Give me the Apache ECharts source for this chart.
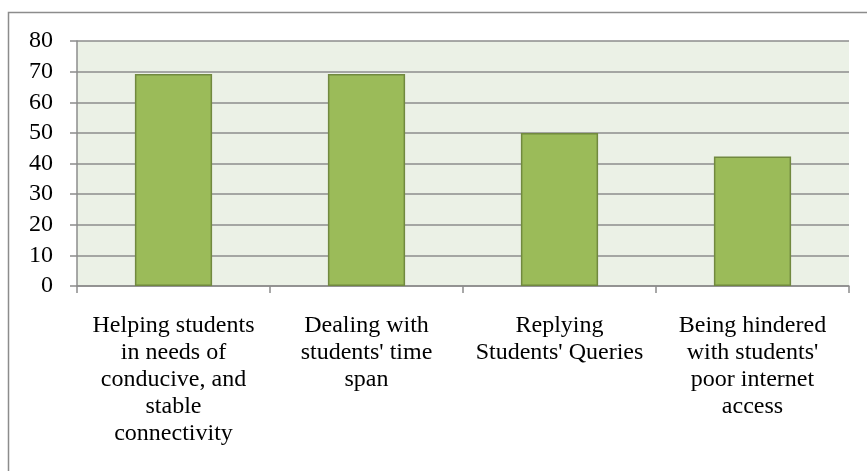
<!DOCTYPE html>
<html>
<head>
<meta charset="utf-8">
<script src="https://cdn.jsdelivr.net/npm/echarts@6/dist/echarts.min.js"></script>
<style>html,body{margin:0;padding:0;background:#fff;}#c{width:867px;height:471px;}</style>
</head>
<body>
<div id="c"></div>
<script>
const categories = [
  "Helping students\nin needs of\nconducive, and\nstable\nconnectivity",
  "Dealing with\nstudents' time\nspan",
  "Replying\nStudents' Queries",
  "Being hindered\nwith students'\npoor internet\naccess"
];
const values = [69.2, 69.2, 50, 42.3];
const yTicks = {min: 0, max: 80, interval: 10};

const chart = echarts.init(document.getElementById('c'), null, {renderer: 'canvas'});
chart.setOption({
  animation: false,
  backgroundColor: '#ffffff',
  graphic: [{
    type: 'rect',
    shape: {x: 8.5, y: 12.5, width: 900, height: 500},
    style: {fill: 'none', stroke: '#8c8c8c', lineWidth: 1.5},
    silent: true, z: -1
  }],
  grid: {left: 77, right: 18, top: 41, bottom: 185, containLabel: false,
         show: true, backgroundColor: '#EBF1E6', borderWidth: 0},
  xAxis: {
    type: 'category',
    data: categories,
    axisLine: {show: true, lineStyle: {color: '#8c8c8c', width: 1.5}},
    axisTick: {show: true, alignWithLabel: false, length: 7, lineStyle: {color: '#8c8c8c', width: 1.5}},
    axisLabel: {
      interval: 0, margin: 26, color: '#000',
      fontFamily: 'Liberation Serif', fontSize: 24, lineHeight: 27, align: 'center'
    }
  },
  yAxis: {
    type: 'value',
    min: yTicks.min, max: yTicks.max, interval: yTicks.interval,
    axisLine: {show: true, lineStyle: {color: '#8c8c8c', width: 1.5}},
    axisTick: {show: true, length: 7, lineStyle: {color: '#8c8c8c', width: 1.5}},
    splitLine: {show: true, lineStyle: {color: '#8c8c8c', width: 1.5}},
    axisLabel: {margin: 24, color: '#000', fontFamily: 'Liberation Serif', fontSize: 24}
  },
  series: [{
    type: 'bar',
    data: values,
    barWidth: '40%',
    itemStyle: {color: '#9BBB59', borderColor: '#71893F', borderWidth: 1.5}
  }]
});
</script>
</body>
</html>
